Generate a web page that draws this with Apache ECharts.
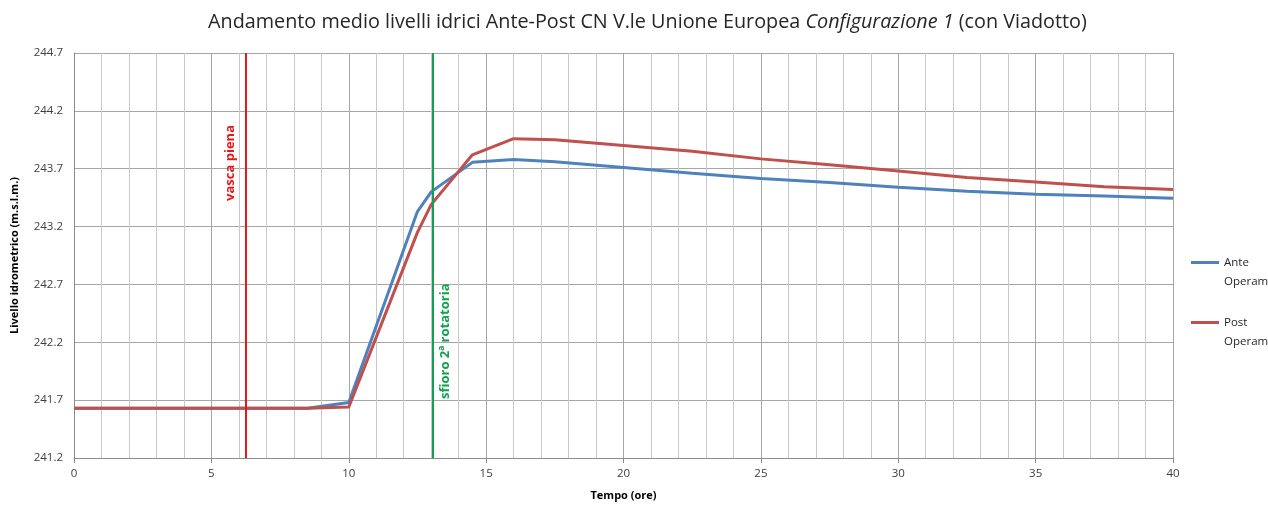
<!DOCTYPE html>
<html>
<head>
<meta charset="utf-8">
<script src="https://cdn.jsdelivr.net/npm/echarts@6/dist/echarts.min.js"></script>
<style>
html,body{margin:0;padding:0;background:#fff;}
#main{width:1268px;height:506px;}
</style>
</head>
<body>
<div id="main"></div>
<script>
// Data
const anteHours = [0, 8.5, 10, 12.5, 13, 14.5, 16, 17.5, 20, 22.5, 25, 27.5, 30, 32.5, 35, 37.5, 40];
const anteLevels = [241.63, 241.63, 241.68, 243.33, 243.50, 243.755, 243.78, 243.76, 243.71, 243.66, 243.615, 243.58, 243.54, 243.505, 243.48, 243.465, 243.445];
const postHours = [0, 8.5, 10, 12.5, 13, 14.5, 16, 17.5, 20, 22.5, 25, 27.5, 30, 32.5, 35, 37.5, 40];
const postLevels = [241.63, 241.63, 241.64, 243.15, 243.39, 243.82, 243.96, 243.95, 243.90, 243.85, 243.785, 243.735, 243.68, 243.625, 243.585, 243.545, 243.52];
const seriesNames = ['Ante Operam', 'Post Operam'];
const yTicks = [241.2, 241.7, 242.2, 242.7, 243.2, 243.7, 244.2, 244.7];
const markerHours = [6.25, 13.05];
const markerLabels = ['vasca piena', 'sfioro 2ª rotatoria'];

const zip = (xs, ys) => xs.map((x, i) => [x, ys[i]]);
const isMajor = v => yTicks.some(t => Math.abs(t - v) < 1e-6);

const chart = echarts.init(document.getElementById('main'), null, {renderer: 'canvas'});
const font = 'Open Sans';
chart.setOption({
  animation: false,
  backgroundColor: '#fff',
  title: {
    text: '{n|Andamento medio livelli idrici Ante-Post CN V.le Unione Europea }{i|Configurazione 1}{n| (con Viadotto)}',
    left: 203, top: 7,
    textStyle: {
      rich: {
        n: {fontFamily: font, fontSize: 19.8, fontWeight: 'normal', color: '#262626'},
        i: {fontFamily: font, fontSize: 19.8, fontWeight: 'normal', color: '#262626', fontStyle: 'italic'}
      }
    }
  },
  grid: {left: 74, right: 95, top: 53, bottom: 47, containLabel: false},
  legend: {
    orient: 'vertical',
    left: 1186, top: 229,
    itemWidth: 28, itemHeight: 3, itemGap: 3,
    icon: 'rect',
    data: seriesNames,
    formatter: n => '\n' + n.replace(' ', '\n'),
    textStyle: {fontFamily: font, fontSize: 11.5, color: '#262626', lineHeight: 19}
  },
  xAxis: {
    type: 'value', min: 0, max: 40, interval: 5,
    name: 'Tempo (ore)', nameLocation: 'middle', nameGap: 32,
    nameTextStyle: {fontFamily: font, fontSize: 11, fontWeight: 'bold', color: '#000'},
    axisLine: {show: true, lineStyle: {color: '#8c8c8c', width: 1}},
    axisTick: {show: true, inside: false, length: 5, lineStyle: {color: '#8c8c8c'}},
    axisLabel: {fontFamily: font, fontSize: 11.5, color: '#404040', margin: 10},
    splitLine: {show: true, lineStyle: {color: '#a6a6a6', width: 1}},
    minorTick: {show: false, splitNumber: 5},
    minorSplitLine: {show: true, lineStyle: {color: '#c8c8c8', width: 1}}
  },
  yAxis: {
    type: 'value', min: 241.2, max: 244.7, interval: 0.1,
    name: 'Livello idrometrico (m.s.l.m.)', nameLocation: 'middle', nameGap: 54,
    nameTextStyle: {fontFamily: font, fontSize: 11, fontWeight: 'bold', color: '#000'},
    axisLine: {show: true, lineStyle: {color: '#8c8c8c', width: 1}},
    axisTick: {show: false},
    axisLabel: {
      fontFamily: font, fontSize: 11.5, color: '#404040', margin: 11,
      formatter: v => isMajor(v) ? v.toFixed(1) : ''
    },
    splitLine: {show: true, lineStyle: {color: ['#a6a6a6', 'rgba(0,0,0,0)', 'rgba(0,0,0,0)', 'rgba(0,0,0,0)', 'rgba(0,0,0,0)'], width: 1}}
  },
  series: [
    {
      name: seriesNames[0], type: 'line', data: zip(anteHours, anteLevels),
      showSymbol: false, symbol: 'none', z: 3,
      lineStyle: {color: '#4F81BD', width: 3}, itemStyle: {color: '#4F81BD'},
      markLine: {
        silent: true, symbol: 'none', animation: false,
        data: [{
          xAxis: markerHours[0],
          lineStyle: {color: '#E3191C', width: 2, type: 'solid'},
          label: {show: true, formatter: markerLabels[0], position: 'insideEndTop', distance: [72, 9],
            fontFamily: font, fontSize: 13, fontWeight: 'bold', color: '#E3191C'}
        }, {
          xAxis: markerHours[1],
          lineStyle: {color: '#13A050', width: 2, type: 'solid'},
          label: {show: true, formatter: markerLabels[1], position: 'insideStartBottom', distance: [59, 6],
            fontFamily: font, fontSize: 13, fontWeight: 'bold', color: '#13A050'}
        }]
      }
    },
    {
      name: seriesNames[1], type: 'line', data: zip(postHours, postLevels),
      showSymbol: false, symbol: 'none', z: 4,
      lineStyle: {color: '#C0504D', width: 3}, itemStyle: {color: '#C0504D'}
    }
  ]
});
</script>
</body>
</html>
